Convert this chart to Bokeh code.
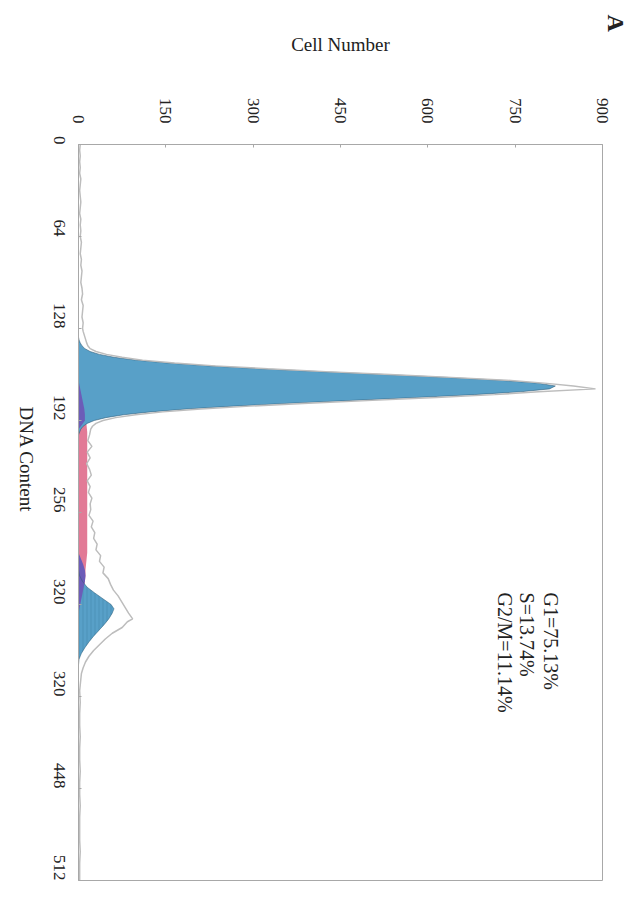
import math
from bokeh.plotting import figure
from bokeh.models import Range1d, Label, FixedTicker, Title
from bokeh.embed import file_html
from bokeh.resources import INLINE

# ---- data ----
cell_ticks = [0, 150, 300, 450, 600, 750, 900]
dna_ticks = [0, 64, 128, 192, 256, 320, 384, 448, 512]
dna_tick_labels = ["0", "64", "128", "192", "256", "320", "320", "448", "512"]

# raw histogram (grey outline)
raw_dna = [0, 4, 8, 12, 16, 20, 24, 28, 32, 36, 40, 44, 48, 52, 56, 60, 64, 68, 72, 76,
           80, 84, 88, 92, 96, 100, 104, 108, 112, 116, 120, 124, 128,
           130, 134, 138, 140, 142, 144, 146, 148, 150, 152, 154, 156, 158, 160,
           162, 164, 166, 168, 170, 172, 174, 176, 178, 180, 182, 184, 186, 188, 190, 192,
           194, 196, 198,
           202, 206, 210, 214, 218, 222, 226, 230, 234, 238, 242, 246, 250, 254, 258, 262,
           266, 270, 274, 278, 282, 286, 290, 294, 298, 302, 306, 310, 314, 318, 322, 326,
           330, 332, 336, 340, 344, 348, 352, 356, 360, 364, 368, 372, 376,
           380, 388, 396, 404, 412, 420, 428, 436, 444, 452, 460, 468, 476, 484, 492, 500, 508, 512]
raw_cells = [3, 2, 3, 2, 3, 2, 4, 3, 2, 3, 4, 3, 2, 4, 3, 4, 3, 5, 4, 3,
             5, 4, 6, 5, 4, 6, 7, 5, 8, 7, 6, 8, 7,
             8, 11, 14, 16, 20, 30, 48, 75, 110, 165, 235, 325, 425, 535,
             640, 735, 800, 850, 888, 790, 715, 615, 505, 395, 295, 210, 145, 98, 64, 42,
             30, 24, 21,
             19, 16, 23, 15, 20, 14, 19, 22, 15, 20, 17, 23, 20, 21, 18, 25,
             22, 28, 26, 32, 30, 38, 36, 44, 42, 51, 55, 60, 68, 74, 80, 86,
             93, 84, 75, 58, 46, 36, 26, 18, 12, 8, 5, 4, 3,
             2, 3, 2, 2, 3, 2, 2, 3, 2, 2, 3, 2, 2, 2, 3, 2, 2, 2]

# G1 fitted peak
g1_dna = [134, 136, 138, 140, 142, 144, 146, 148, 150, 152, 154, 156, 158, 160, 162, 164,
          166, 168, 170, 172, 174, 176, 178, 180, 182, 184, 186, 188, 190, 192, 194, 196,
          198, 200, 202]
g1_cells = [0, 1, 3, 6, 11, 20, 36, 61, 99, 153, 224, 312, 415, 525, 632, 724,
            789, 819, 809, 760, 680, 580, 470, 363, 266, 186, 124, 78, 47, 27, 15, 8,
            4, 2, 0]

# S phase
s_dna = [164, 168, 172, 176, 180, 184, 188, 192, 196, 200, 210, 220, 230, 240, 250, 260,
         270, 280, 284, 288, 292, 296, 300, 304, 308, 312, 316, 320, 324, 328]
s_cells = [0, 2, 4, 6, 8, 10, 12, 13, 14, 15, 15, 15, 15, 15, 15, 15,
           15, 15, 15, 14, 13, 12, 12, 11, 9, 7, 5, 3, 1, 0]

# overlap areas (purple)
ov1_dna = [164, 168, 172, 176, 180, 184, 188, 192, 195, 198]
ov1_cells = [0, 2, 4, 6, 8, 10, 11, 11, 6, 0]
ov2_dna = [284, 288, 292, 296, 300, 304, 308, 312, 316, 320, 324, 328]
ov2_cells = [0, 4, 8, 11, 12, 11, 9, 7, 5, 3, 1, 0]

# G2/M fitted peak
g2_dna = [296, 300, 304, 308, 312, 316, 320, 323, 326, 330, 334, 338, 342, 346, 350, 354, 358, 362]
g2_cells = [0, 2, 7, 15, 28, 42, 56, 61, 58, 52, 44, 35, 26, 18, 11, 5, 1, 0]

stats = ["G1=75.13%", "S=13.74%", "G2/M=11.14%"]

# ---- figure ----
FONT = "Liberation Serif"
p = figure(width=635, height=898, x_range=Range1d(0, 900), y_range=Range1d(512, 0),
           x_axis_location="above", output_backend="svg", toolbar_location=None,
           min_border_left=78, min_border_right=33, min_border_top=144, min_border_bottom=18)
p.grid.visible = False
p.outline_line_color = "#a8a8a8"
p.outline_line_width = 1
p.background_fill_color = "white"
p.border_fill_color = "white"

for ax in (p.xaxis[0], p.yaxis[0]):
    ax.axis_line_color = "#a8a8a8"
    ax.major_tick_line_color = "#a8a8a8"
    ax.major_tick_in = 3
    ax.major_tick_out = 0
    ax.minor_tick_line_color = None
    ax.major_label_text_font = FONT
    ax.major_label_text_font_size = "17px"
    ax.major_label_text_color = "#222222"
    ax.major_label_orientation = -math.pi / 2
    ax.axis_label_text_font = FONT
    ax.axis_label_text_font_size = "19px"
    ax.axis_label_text_font_style = "normal"
    ax.axis_label_text_color = "#222222"

p.xaxis.ticker = FixedTicker(ticks=cell_ticks)
p.xaxis.major_label_standoff = 21
p.xaxis.axis_label = "Cell Number"
p.xaxis.axis_label_standoff = 40

p.yaxis.ticker = FixedTicker(ticks=dna_ticks)
p.yaxis.major_label_overrides = {t: l for t, l in zip(dna_ticks, dna_tick_labels)}
p.yaxis.major_label_standoff = 19
p.yaxis.axis_label = "DNA Content"
p.yaxis.axis_label_standoff = 19
yprops = p.yaxis[0].properties()
if "axis_label_orientation" in yprops:
    p.yaxis[0].axis_label_orientation = 3 * math.pi / 2

BLUE = "#58a0c8"
PINK = "#e27a96"
PURPLE = "#6c5cb8"

p.harea(y=s_dna, x1=0, x2=s_cells, fill_color=PINK)
p.harea(y=g1_dna, x1=0, x2=g1_cells, fill_color=BLUE)
p.harea(y=g2_dna, x1=0, x2=g2_cells, fill_color=BLUE,
        hatch_pattern="vertical_line", hatch_color="#3f7ea3", hatch_alpha=0.45,
        hatch_scale=4, hatch_weight=1)
p.harea(y=ov1_dna, x1=0, x2=ov1_cells, fill_color=PURPLE)
p.harea(y=ov2_dna, x1=0, x2=ov2_cells, fill_color=PURPLE)
p.line(x=g1_cells, y=g1_dna, line_color="#2f5a74", line_width=0.8, line_alpha=0.7)
p.line(x=g2_cells, y=g2_dna, line_color="#2f5a74", line_width=0.8, line_alpha=0.6)
p.line(x=raw_cells, y=raw_dna, line_color="#bdbdbd", line_width=1.5)

# panel letter as a side title on the right
p.add_layout(Title(text="A", align="left", text_font=FONT, text_font_size="24px",
                   text_font_style="bold", text_color="#222222", standoff=0,
                   offset=-130), "right")

for xs, t in zip([811, 771, 733], stats):
    p.add_layout(Label(x=xs, y=311.7, text=t, text_font=FONT, text_font_size="20px",
                       text_align="left", text_baseline="middle", angle=-math.pi / 2,
                       text_color="#222222"))

open("out.html", "w").write(file_html(p, INLINE))
